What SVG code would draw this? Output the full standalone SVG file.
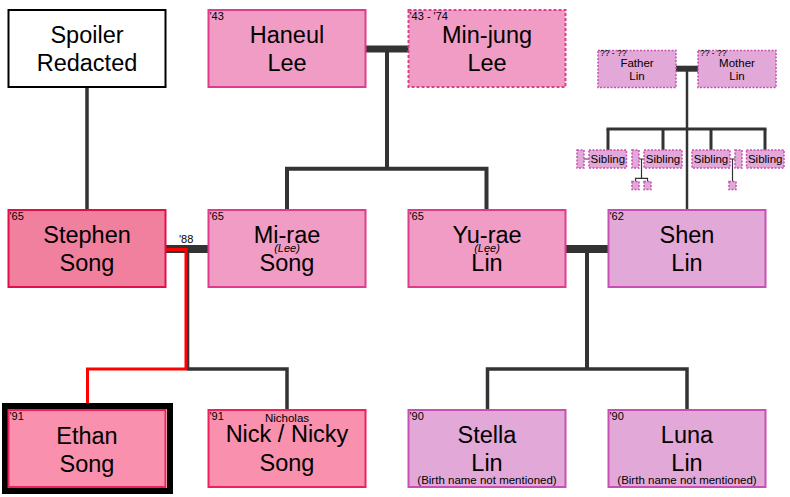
<svg xmlns="http://www.w3.org/2000/svg" width="790" height="497" viewBox="0 0 790 497">
<style>
text{font-family:"Liberation Sans",Arial,sans-serif;fill:#000}
.n{font-size:23.5px;text-anchor:middle}
.y{font-size:11px}
.t{font-size:8.5px}
.s{font-size:11.5px;text-anchor:middle}
.i{font-size:11px;font-style:italic;text-anchor:middle}
.box{stroke-width:2}
.spo{fill:#fff;stroke:#000}
.lee{fill:#f09cc4;stroke:#e03c8c}
.step{fill:#f0809e;stroke:#e0104a}
.kid{fill:#f890ae;stroke:#f0205c}
.lin{fill:#e2a8d8;stroke:#c850b4}
.dash{stroke-dasharray:3 2}
.dot{stroke-width:1.5;stroke-dasharray:2 1.5}
.c{stroke:#333;fill:none}
</style>
<g id="connectors">
<line class="c" x1="87" y1="87" x2="87" y2="210" stroke-width="3.5"/>
<line class="c" x1="365" y1="49" x2="409" y2="49" stroke-width="7"/>
<line class="c" x1="387" y1="49" x2="387" y2="168.7" stroke-width="4"/>
<polyline class="c" points="287,210 287,168.7 486.5,168.7 486.5,210" stroke-width="4"/>
<line class="c" x1="676" y1="68.7" x2="698" y2="68.7" stroke-width="6"/>
<line class="c" x1="687" y1="68.7" x2="687" y2="210" stroke-width="2.5"/>
<line class="c" x1="606.5" y1="129" x2="766.5" y2="129" stroke-width="3"/>
<line class="c" x1="608" y1="129" x2="608" y2="150" stroke-width="3"/>
<line class="c" x1="663" y1="129" x2="663" y2="150" stroke-width="3"/>
<line class="c" x1="711" y1="129" x2="711" y2="150" stroke-width="3"/>
<line class="c" x1="765" y1="129" x2="765" y2="150" stroke-width="3"/>
<line class="c" x1="584" y1="159" x2="589" y2="159" stroke-width="1"/>
<line class="c" x1="639" y1="159" x2="644" y2="159" stroke-width="1"/>
<polyline class="c" points="641.5,159 641.5,178.3" stroke-width="1.2"/>
<polyline class="c" points="635.5,181.5 635.5,178.3 647.5,178.3 647.5,181.5" stroke-width="1.2"/>
<line class="c" x1="730" y1="159" x2="735" y2="159" stroke-width="1"/>
<line class="c" x1="732.5" y1="159" x2="732.5" y2="181.5" stroke-width="1.2"/>
<line class="c" x1="165" y1="249" x2="209" y2="249" stroke-width="8"/>
<line class="c" x1="187.3" y1="249" x2="187.3" y2="369" stroke-width="4"/>
<polyline class="c" points="187,369 287,369 287,410" stroke-width="3.5"/>
<polyline points="165,249.6 186,249.6 186,369 87.5,369 87.5,410" fill="none" stroke="#ff0000" stroke-width="3"/>
<line class="c" x1="565" y1="249" x2="609" y2="249" stroke-width="8"/>
<line class="c" x1="587" y1="249" x2="587" y2="369" stroke-width="4"/>
<polyline class="c" points="487.5,410 487.5,369 687,369 687,410" stroke-width="3.5"/>
<text class="y" x="179" y="243">'88</text>
</g>
<g id="spoiler">
<rect class="box spo" x="8.5" y="10" width="157" height="77"/>
<text class="n" x="87" y="43">Spoiler</text>
<text class="n" x="87" y="71">Redacted</text>
</g>
<g id="haneul">
<rect class="box lee" x="208.5" y="10" width="157" height="77"/>
<text class="y" x="209.5" y="20">'43</text>
<text class="n" x="287" y="43">Haneul</text>
<text class="n" x="287" y="71">Lee</text>
</g>
<g id="minjung">
<rect class="box lee dash" x="408.5" y="10" width="157" height="77"/>
<text class="y" x="409.5" y="20">'43 - '74</text>
<text class="n" x="487" y="43">Min-jung</text>
<text class="n" x="487" y="71">Lee</text>
</g>
<g id="father">
<rect class="lin dot" x="598" y="50.5" width="78" height="37"/>
<text class="t" x="600" y="56">?? - ??</text>
<text class="s" x="637" y="67">Father</text>
<text class="s" x="637" y="79.5">Lin</text>
</g>
<g id="mother">
<rect class="lin dot" x="698" y="50.5" width="78" height="37"/>
<text class="t" x="700" y="56">?? - ??</text>
<text class="s" x="737" y="67">Mother</text>
<text class="s" x="737" y="79.5">Lin</text>
</g>
<g id="siblings">
<rect class="lin dot" x="577" y="150" width="7" height="18"/>
<rect class="lin dot" x="589" y="150" width="37.5" height="18"/>
<text class="s" x="607.8" y="163.3">Sibling</text>
<rect class="lin dot" x="632" y="150" width="7" height="18"/>
<rect class="lin dot" x="644" y="150" width="38" height="18"/>
<text class="s" x="663" y="163.3">Sibling</text>
<rect class="lin dot" x="692" y="150" width="38" height="18"/>
<text class="s" x="711" y="163.3">Sibling</text>
<rect class="lin dot" x="735" y="150" width="7" height="18"/>
<rect class="lin dot" x="746.5" y="150" width="37.5" height="18"/>
<text class="s" x="765.2" y="163.3">Sibling</text>
<rect class="lin dot" x="632" y="181.5" width="7" height="8"/>
<rect class="lin dot" x="644" y="181.5" width="7" height="8"/>
<rect class="lin dot" x="729" y="181.5" width="7" height="8"/>
</g>
<g id="stephen">
<rect class="box step" x="8.5" y="210" width="157" height="77"/>
<text class="y" x="9.5" y="220">'65</text>
<text class="n" x="87" y="243">Stephen</text>
<text class="n" x="87" y="271">Song</text>
</g>
<g id="mirae">
<rect class="box lee" x="208.5" y="210" width="157" height="77"/>
<text class="y" x="209.5" y="220">'65</text>
<text class="n" x="287" y="243">Mi-rae</text>
<text class="i" x="287" y="252">(Lee)</text>
<text class="n" x="287" y="271">Song</text>
</g>
<g id="yurae">
<rect class="box lee" x="408.5" y="210" width="157" height="77"/>
<text class="y" x="409.5" y="220">'65</text>
<text class="n" x="487" y="243">Yu-rae</text>
<text class="i" x="487" y="252">(Lee)</text>
<text class="n" x="487" y="271">Lin</text>
</g>
<g id="shen">
<rect class="box lin" x="608.5" y="210" width="157" height="77"/>
<text class="y" x="609.5" y="220">'62</text>
<text class="n" x="687" y="243">Shen</text>
<text class="n" x="687" y="271">Lin</text>
</g>
<g id="ethan">
<rect x="5" y="406" width="165" height="85" fill="none" stroke="#000" stroke-width="6"/>
<rect class="box kid" x="8.5" y="410" width="157" height="77"/>
<text class="y" x="9.5" y="420">'91</text>
<text class="n" x="87" y="443.5">Ethan</text>
<text class="n" x="87" y="471.5">Song</text>
</g>
<g id="nick">
<rect class="box kid" x="208.5" y="410" width="157" height="77"/>
<text class="y" x="209.5" y="420">'91</text>
<text class="s" x="287" y="422.3">Nicholas</text>
<text class="n" x="287" y="441.5">Nick / Nicky</text>
<text class="n" x="287" y="471">Song</text>
</g>
<g id="stella">
<rect class="box lin" x="408.5" y="410" width="157" height="77"/>
<text class="y" x="409.5" y="420">'90</text>
<text class="n" x="487" y="442.5">Stella</text>
<text class="n" x="487" y="471">Lin</text>
<text class="s" x="487" y="484">(Birth name not mentioned)</text>
</g>
<g id="luna">
<rect class="box lin" x="608.5" y="410" width="157" height="77"/>
<text class="y" x="609.5" y="420">'90</text>
<text class="n" x="687" y="442.5">Luna</text>
<text class="n" x="687" y="471">Lin</text>
<text class="s" x="687" y="484">(Birth name not mentioned)</text>
</g>
</svg>
